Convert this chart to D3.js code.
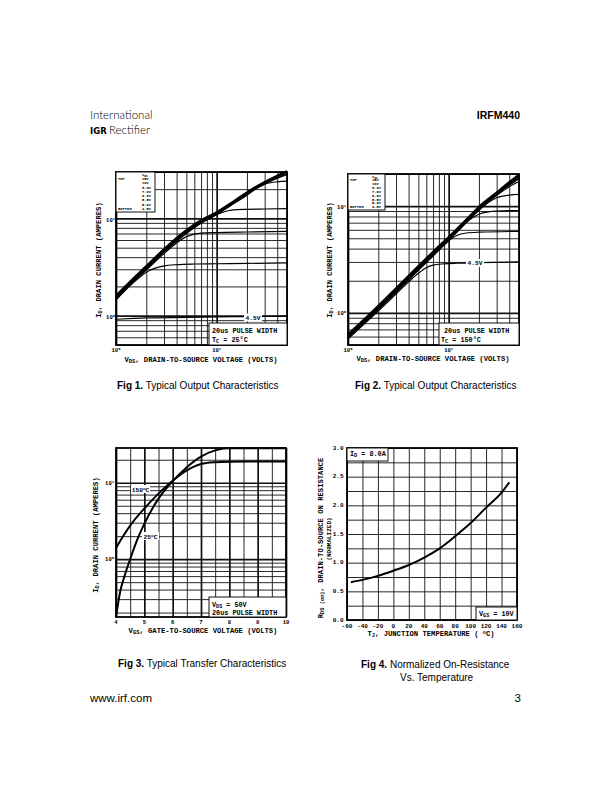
<!DOCTYPE html>
<html>
<head>
<meta charset="utf-8">
<script src="https://cdn.jsdelivr.net/npm/d3@7"></script>
<style>
  body { margin: 0; background: #fff; }
  svg { display: block; }
  .mono { font-family: "Liberation Mono", "DejaVu Sans Mono", monospace; font-weight: bold; }
  .cap { font-family: "Liberation Sans", Arial, sans-serif; }
</style>
</head>
<body>
<svg id="page" width="612" height="792"></svg>
<script>
// ---- data ----
const vgsLevels = ["15V", "10V", "8.0V", "7.0V", "6.0V", "5.5V", "5.0V", "4.5V"];

// Fig 1, Tc = 25C : [Vds (V), Id (A)]
const fig1Vgs15 = [[1,1.62],[1.5,2.45],[2,3.25],[3,4.85],[5,7.6],[7,9.6],[10,11.6],[15,15.2],[20,18.6],[30,23.8],[40,27.6],[50,30.6]];
const fig1Vgs10 = [[1,1.58],[1.5,2.4],[2,3.2],[3,4.75],[5,7.45],[7,9.4],[10,11.4],[15,15.0],[20,18.3],[30,23.4],[40,27.0],[50,30.0]];
const fig1Vgs8 = [[1,1.55],[1.5,2.35],[2,3.12],[3,4.65],[5,7.3],[7,9.25],[10,11.2],[15,14.7],[20,17.9],[30,22.8],[40,26.0],[50,28.5]];
const fig1Vgs7 = [[1,1.52],[1.5,2.3],[2,3.05],[3,4.55],[5,7.15],[7,9.1],[10,11.0],[15,14.3],[20,17.3],[25,20.5],[30,22.5],[40,23.8],[50,24.2]];
const fig1Vgs6 = [[1,1.5],[1.5,2.28],[2,3.0],[3,4.5],[5,7.0],[7,8.9],[9,10.3],[11,11.4],[13,12.0],[16,12.3],[20,12.4],[30,12.5],[50,12.6]];
const fig1Vgs55 = [[1,1.48],[1.5,2.25],[2,2.95],[3,4.35],[4,5.6],[5,6.5],[6,6.9],[7,7.05],[10,7.15],[20,7.25],[50,7.35]];
const fig1Vgs5 = [[1,1.45],[1.5,2.2],[2,2.8],[2.5,3.1],[3,3.25],[4,3.35],[6,3.4],[10,3.42],[20,3.45],[50,3.5]];
const fig1Vgs45 = [[1,0.92],[1.5,0.94],[2,0.95],[5,0.96],[10,0.97],[20,0.98],[50,0.99]];

// Fig 2, Tc = 150C : [Vds (V), Id (A)]
const fig2Vgs15 = [[1,0.63],[1.5,0.9],[2,1.17],[3,1.7],[5,2.75],[7,3.75],[10,5.15],[15,7.5],[20,9.9],[30,13.5],[40,16.8],[50,19.8]];
const fig2Vgs10 = [[1,0.62],[1.5,0.88],[2,1.15],[3,1.67],[5,2.7],[7,3.7],[10,5.05],[15,7.4],[20,9.7],[30,13.2],[40,16.3],[50,19.2]];
const fig2Vgs8 = [[1,0.61],[1.5,0.87],[2,1.13],[3,1.64],[5,2.66],[7,3.64],[10,4.98],[15,7.3],[20,9.55],[30,12.9],[40,15.8],[50,18.3]];
const fig2Vgs7 = [[1,0.6],[1.5,0.86],[2,1.12],[3,1.62],[5,2.63],[7,3.6],[10,4.92],[15,7.2],[20,9.4],[30,12.6],[40,15.2],[50,17.0]];
const fig2Vgs6 = [[1,0.6],[1.5,0.85],[2,1.1],[3,1.6],[5,2.6],[7,3.55],[10,4.85],[15,7.05],[20,9.1],[25,10.9],[30,12.0],[40,12.7],[50,12.9]];
const fig2Vgs55 = [[1,0.59],[1.5,0.84],[2,1.09],[3,1.58],[5,2.55],[7,3.5],[10,4.75],[13,6.1],[16,7.4],[20,8.4],[25,8.85],[30,9.0],[50,9.1]];
const fig2Vgs5 = [[1,0.58],[1.5,0.83],[2,1.07],[3,1.55],[5,2.5],[7,3.4],[8.5,4.1],[10,4.7],[12,5.3],[15,5.6],[20,5.7],[50,5.8]];
const fig2Vgs45 = [[1,0.57],[1.5,0.81],[2,1.04],[3,1.5],[4,1.95],[5,2.35],[6,2.65],[7,2.8],[9,2.88],[12,2.92],[20,2.95],[50,3.0]];

// Fig 3, Vds = 50V : [Vgs (V), Id (A)]
const fig3T25 = [[4.0,0.175],[4.15,0.38],[4.3,0.6],[4.5,1.0],[4.75,1.8],[5.0,2.9],[5.5,6.2],[6.0,10.5],[6.5,16],[7.0,22],[7.5,26.5],[7.8,28],[8,28.3],[9,28.3],[10,28.3]];
const fig3T150 = [[4.0,1.4],[4.25,2.0],[4.5,2.75],[5.0,4.6],[5.5,7.2],[6.0,10.6],[6.5,14.5],[7.0,17.6],[7.5,18.6],[8,18.9],[9,19],[10,19]];

// Fig 4, Id = 8.0A, Vgs = 10V
const fig4Temp = [-55, -40, -20, 0, 20, 40, 60, 80, 100, 120, 140, 150];
const fig4Rds = [0.66, 0.70, 0.77, 0.86, 0.96, 1.09, 1.25, 1.46, 1.69, 1.96, 2.22, 2.40];

const fig3XTicks = [4, 5, 6, 7, 8, 9, 10];
const fig4XTicks = [-60, -40, -20, 0, 20, 40, 60, 80, 100, 120, 140, 160];
const fig4YTicks = [0, 0.5, 1.0, 1.5, 2.0, 2.5, 3.0];

const svg = d3.select("#page");

// rich text: segs = [[text, "sub"|"sup"|null], ...]
function rich(sel, segs) {
  segs.forEach(([t, k]) => {
    const ts = sel.append("tspan").text(t);
    if (k === "sub") ts.attr("baseline-shift", "-25%").attr("font-size", "75%");
    if (k === "sup") ts.attr("baseline-shift", "45%").attr("font-size", "70%");
  });
  return sel;
}

function txt(x, y, segs, size, anchor, cls) {
  const t = svg.append("text").attr("class", cls || "mono")
    .attr("x", x).attr("y", y).attr("font-size", size)
    .attr("text-anchor", anchor || "start");
  return rich(t, segs);
}

function vtxt(x, y, segs, size) {
  const t = svg.append("text").attr("class", "mono")
    .attr("transform", `translate(${x},${y}) rotate(-90)`)
    .attr("font-size", size).attr("text-anchor", "middle");
  return rich(t, segs);
}

function whiteBox(x0, y0, x1, y1, stroke) {
  svg.append("rect").attr("x", x0).attr("y", y0)
    .attr("width", x1 - x0).attr("height", y1 - y0)
    .attr("fill", "#fff").attr("stroke", stroke ? "#111" : "none").attr("stroke-width", 1);
}

// grid + frame from d3 axes
function frame(box, x, y, xVals, yVals, majX, majY) {
  const h = box.bottom - box.top, w = box.right - box.left;
  const g = svg.append("g");
  const gx = g.append("g").attr("transform", `translate(0,${box.bottom})`)
    .call(d3.axisBottom(x).tickValues(xVals).tickSize(-h).tickSizeOuter(0).tickFormat(""));
  const gy = g.append("g").attr("transform", `translate(${box.left},0)`)
    .call(d3.axisLeft(y).tickValues(yVals).tickSize(-w).tickSizeOuter(0).tickFormat(""));
  [gx, gy].forEach(a => a.select(".domain").remove());
  gx.selectAll(".tick line").attr("stroke", "#111").attr("stroke-width", d => majX(d) ? 1.7 : 0.9);
  gy.selectAll(".tick line").attr("stroke", "#111").attr("stroke-width", d => majY(d) ? 1.7 : 0.9);
  g.append("rect").attr("x", box.left).attr("y", box.top).attr("width", w).attr("height", h)
    .attr("fill", "none").attr("stroke", "#000").attr("stroke-width", 1.8);
}

function curve(x, y, pts, width) {
  svg.append("path").datum(pts)
    .attr("fill", "none").attr("stroke", "#000").attr("stroke-width", width)
    .attr("stroke-linejoin", "round")
    .attr("d", d3.line().x(d => x(d[0])).y(d => y(d[1])).curve(d3.curveMonotoneX));
}

const isDecade = d => Math.abs(Math.log10(d) - Math.round(Math.log10(d))) < 1e-6;

function legend(x0, y0, x1, y1, colX) {
  whiteBox(x0, y0, x1, y1, true);
  const step = (y1 - y0 - 3) / 8.6;
  txt(colX, y0 + 3.6, [["V", null], ["GS", "sub"]], 3.8);
  vgsLevels.forEach((v, i) => txt(colX, y0 + 3.6 + step * (i + 1), [[v, null]], 3.8));
  txt(x0 + 2, y0 + 3.6 + step, [["TOP", null]], 3.8);
  txt(x0 + 2, y0 + 3.6 + step * 8, [["BOTTOM", null]], 3.8);
}

// ---- header ----
svg.append("text").attr("x", 90).attr("y", 119).attr("font-family", "Lato, 'Open Sans', sans-serif")
  .attr("font-weight", 300).attr("font-size", 11.5).attr("fill", "#000").text("International");
svg.append("text").attr("x", 90).attr("y", 134).attr("font-family", "'DejaVu Sans', sans-serif")
  .attr("font-weight", "bold").attr("font-size", 8.5).attr("fill", "#000").text("IGR");
svg.append("text").attr("x", 109).attr("y", 134).attr("font-family", "Lato, 'Open Sans', sans-serif")
  .attr("font-weight", 300).attr("font-size", 11.5).attr("fill", "#000").text("Rectifier");
svg.append("text").attr("x", 520).attr("y", 119).attr("class", "cap")
  .attr("font-weight", "bold").attr("font-size", 10.5).attr("text-anchor", "end").text("IRFM440");

// ---- Fig 1 ----
{
  const box = { left: 116, right: 287, top: 172, bottom: 345 };
  const x = d3.scaleLog().domain([1, 50]).range([box.left, box.right]);
  const y = d3.scaleLog().domain([0.5, 30]).range([box.bottom, box.top]);
  frame(box, x, y, x.ticks(), y.ticks(), isDecade, isDecade);
  [fig1Vgs45, fig1Vgs5, fig1Vgs55, fig1Vgs6, fig1Vgs7].forEach(c => curve(x, y, c, 1.2));
  [fig1Vgs8, fig1Vgs10, fig1Vgs15].forEach(c => curve(x, y, c, 1.9));
  legend(116, 172, 155, 212, 142);
  whiteBox(244, 313.5, 262, 321.5);
  txt(253, 319.8, [["4.5V", null]], 6.2, "middle");
  whiteBox(209, 323, 287, 345, true);
  txt(212, 332.5, [["20us PULSE WIDTH", null]], 6.8);
  txt(212, 341.5, [["T", null], ["C", "sub"], [" = 25°C", null]], 6.8);
  txt(115, 222, [["10", null], ["1", "sup"]], 5.5, "end");
  txt(115, 319, [["10", null], ["0", "sup"]], 5.5, "end");
  txt(x(1), 352, [["10", null], ["0", "sup"]], 5.5, "middle");
  txt(x(10), 352, [["10", null], ["1", "sup"]], 5.5, "middle");
  txt(201, 362, [["V", null], ["DS", "sub"], [", DRAIN-TO-SOURCE VOLTAGE (VOLTS)", null]], 7.2, "middle");
  vtxt(101, 260, [["I", null], ["D", "sub"], [",  DRAIN CURRENT (AMPERES)", null]], 7.2);
}

// ---- Fig 2 ----
{
  const box = { left: 348, right: 519, top: 174, bottom: 345 };
  const x = d3.scaleLog().domain([1, 50]).range([box.left, box.right]);
  const y = d3.scaleLog().domain([0.5, 20]).range([box.bottom, box.top]);
  frame(box, x, y, x.ticks(), y.ticks(), isDecade, isDecade);
  [fig2Vgs45, fig2Vgs5, fig2Vgs55, fig2Vgs6, fig2Vgs7].forEach(c => curve(x, y, c, 1.2));
  [fig2Vgs8, fig2Vgs10, fig2Vgs15].forEach(c => curve(x, y, c, 1.9));
  legend(348, 174, 385, 210, 372);
  whiteBox(466, 259, 484, 267);
  txt(475, 265.2, [["4.5V", null]], 6.2, "middle");
  whiteBox(439, 323, 519, 345, true);
  txt(444, 332.5, [["20us PULSE WIDTH", null]], 6.8);
  txt(441, 341.5, [["T", null], ["C", "sub"], [" = 150°C", null]], 6.8);
  txt(346, 209, [["10", null], ["1", "sup"]], 5.5, "end");
  txt(346, 315, [["10", null], ["0", "sup"]], 5.5, "end");
  txt(x(1), 352, [["10", null], ["0", "sup"]], 5.5, "middle");
  txt(x(10), 352, [["10", null], ["1", "sup"]], 5.5, "middle");
  txt(433, 361, [["V", null], ["DS", "sub"], [", DRAIN-TO-SOURCE VOLTAGE (VOLTS)", null]], 7.2, "middle");
  vtxt(332, 260, [["I", null], ["D", "sub"], [",  DRAIN CURRENT (AMPERES)", null]], 7.2);
}

// ---- Fig 3 ----
{
  const box = { left: 116, right: 286, top: 448, bottom: 617 };
  const x = d3.scaleLinear().domain([4, 10]).range([box.left, box.right]);
  const y = d3.scaleLog().domain([0.175, 28.5]).range([box.bottom, box.top]);
  frame(box, x, y, d3.range(4, 10.01, 0.5), y.ticks(), d => Number.isInteger(d), isDecade);
  curve(x, y, fig3T150, 2);
  curve(x, y, fig3T25, 2);
  whiteBox(131, 485, 150, 493);
  txt(140.5, 491.5, [["150", null], ["o", "sup"], ["C", null]], 6.2, "middle");
  whiteBox(142, 532, 159, 540);
  txt(150.5, 538.5, [["25", null], ["o", "sup"], ["C", null]], 6.2, "middle");
  whiteBox(209, 597, 286, 617, true);
  txt(212, 606.5, [["V", null], ["DS", "sub"], [" = 50V", null]], 6.8);
  txt(212, 614.8, [["20us PULSE WIDTH", null]], 6.8);
  txt(114, 485, [["10", null], ["1", "sup"]], 5.5, "end");
  txt(114, 561, [["10", null], ["0", "sup"]], 5.5, "end");
  svg.append("g").selectAll("text").data(fig3XTicks).join("text")
    .attr("class", "mono").attr("font-size", 5.5).attr("text-anchor", "middle")
    .attr("x", d => x(d)).attr("y", 624).text(d => d);
  txt(203, 633, [["V", null], ["GS", "sub"], [", GATE-TO-SOURCE VOLTAGE (VOLTS)", null]], 7.2, "middle");
  vtxt(98, 535, [["I", null], ["D", "sub"], [",  DRAIN CURRENT (AMPERES)", null]], 7.2);
}

// ---- Fig 4 ----
{
  const box = { left: 347, right: 517, top: 448, bottom: 620 };
  const x = d3.scaleLinear().domain([-60, 160]).range([box.left, box.right]);
  const y = d3.scaleLinear().domain([0, 3]).range([box.bottom, box.top]);
  frame(box, x, y, d3.range(-60, 161, 20), d3.range(0, 3.01, 0.25), () => false, () => false);
  curve(x, y, fig4Temp.map((t, i) => [t, fig4Rds[i]]), 2);
  whiteBox(347, 448, 388, 461, true);
  txt(350, 456, [["I", null], ["D", "sub"], [" = 8.0A", null]], 6.8);
  whiteBox(476, 607, 517, 620, true);
  txt(479, 615.5, [["V", null], ["GS", "sub"], [" = 10V", null]], 6.8);
  svg.append("g").selectAll("text").data(fig4YTicks).join("text")
    .attr("class", "mono").attr("font-size", 6).attr("text-anchor", "end")
    .attr("x", 343.5).attr("y", d => y(d) + 1.5).text(d => d.toFixed(1));
  svg.append("g").selectAll("text").data(fig4XTicks).join("text")
    .attr("class", "mono").attr("font-size", 6).attr("text-anchor", "middle")
    .attr("x", d => x(d)).attr("y", 627.5).text(d => d);
  txt(431, 636, [["T", null], ["J", "sub"], [",  JUNCTION TEMPERATURE ( ", null], ["o", "sup"], ["C)", null]], 7.2, "middle");
  vtxt(322.5, 538, [["R", null], ["DS (on)", "sub"], [",  DRAIN-TO-SOURCE ON RESISTANCE", null]], 7.2);
  vtxt(330.5, 539, [["(NORMALIZED)", null]], 6);
}

// ---- captions ----
function caption(x, y, bold, rest) {
  const t = svg.append("text").attr("class", "cap").attr("x", x).attr("y", y).attr("font-size", 10);
  t.append("tspan").attr("font-weight", "bold").text(bold);
  t.append("tspan").text(rest);
}
caption(117, 389, "Fig 1.", "  Typical Output Characteristics");
caption(355, 389, "Fig 2.", "  Typical Output Characteristics");
caption(118, 667, "Fig 3.", "  Typical Transfer Characteristics");
caption(361, 668, "Fig 4.", "  Normalized On-Resistance");
svg.append("text").attr("class", "cap").attr("x", 400).attr("y", 681).attr("font-size", 10).text("Vs. Temperature");
svg.append("text").attr("class", "cap").attr("x", 90).attr("y", 702).attr("font-size", 11.5).text("www.irf.com");
svg.append("text").attr("class", "cap").attr("x", 521).attr("y", 702).attr("font-size", 11.5).attr("text-anchor", "end").text("3");
</script>
</body>
</html>
